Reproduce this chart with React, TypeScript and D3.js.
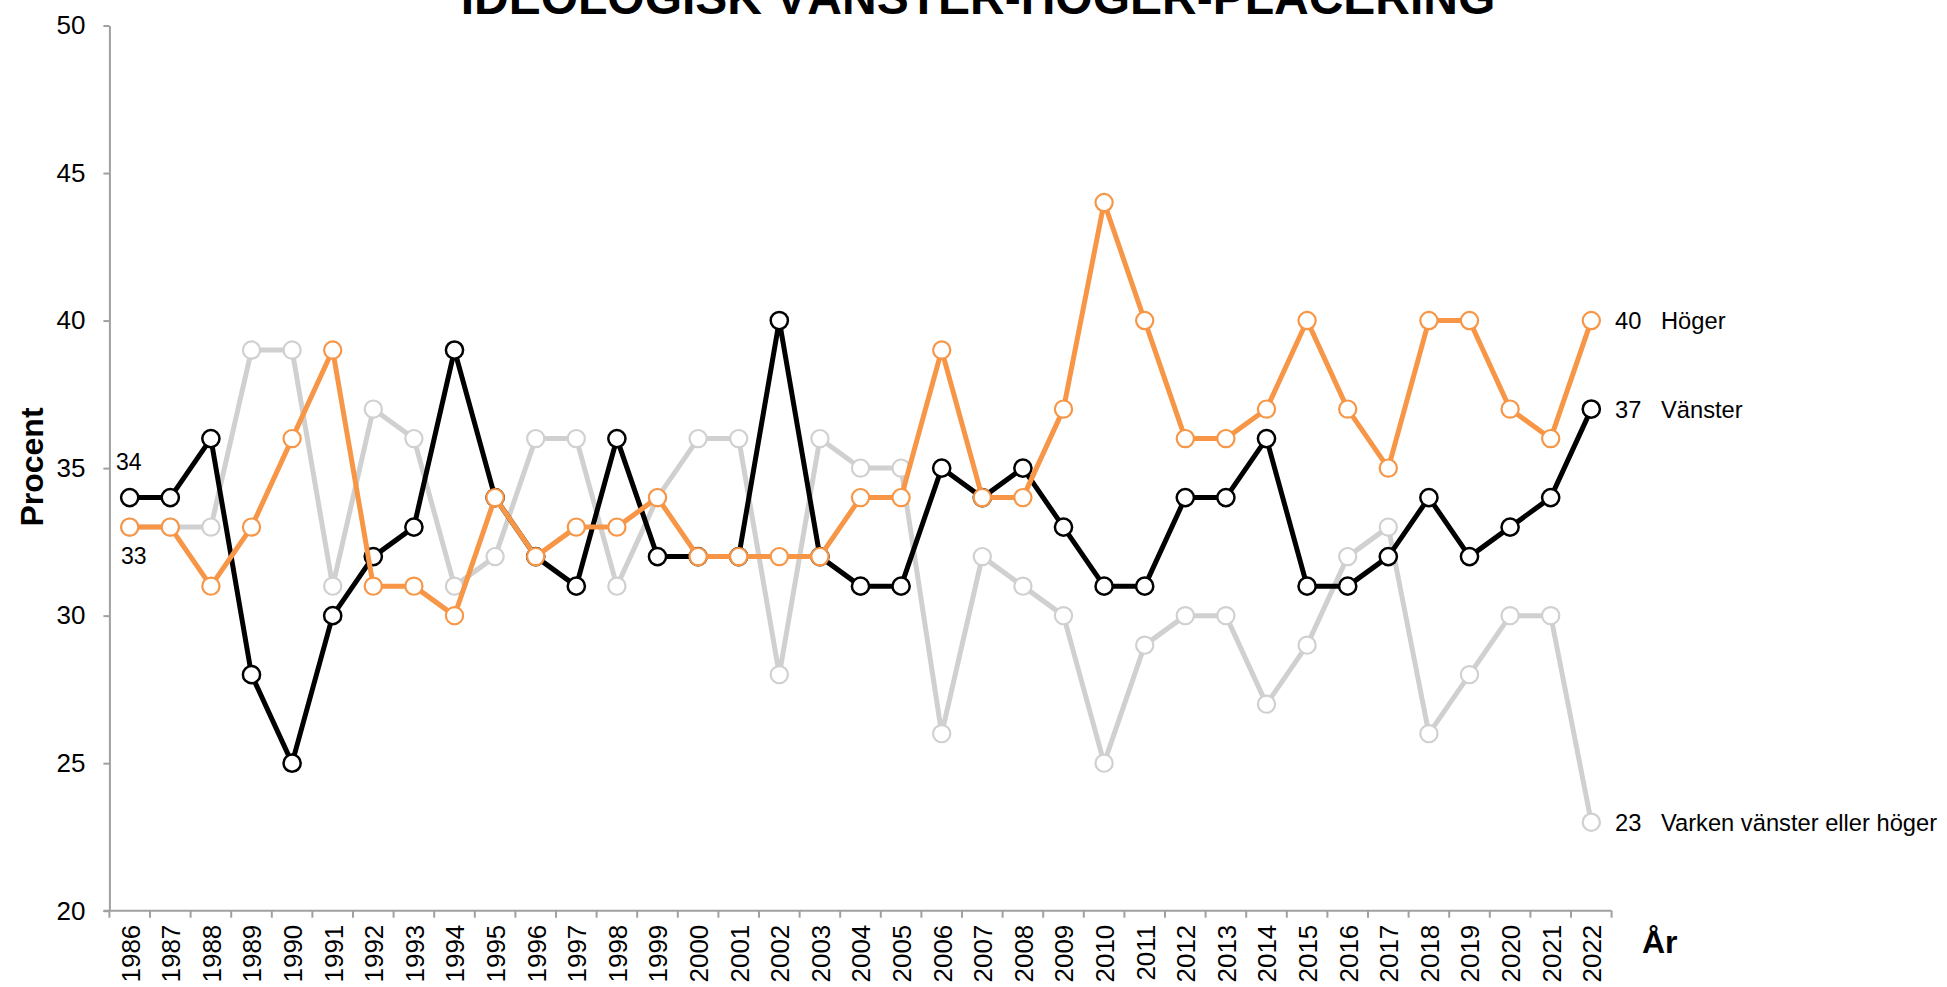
import React, { useEffect, useRef } from 'react';
import * as d3 from 'd3';

const years: string[] = [
  '1986','1987','1988','1989','1990','1991','1992','1993','1994','1995',
  '1996','1997','1998','1999','2000','2001','2002','2003','2004','2005',
  '2006','2007','2008','2009','2010','2011','2012','2013','2014','2015',
  '2016','2017','2018','2019','2020','2021','2022',
];

const vanster: number[] = [
  34, 34, 36, 28, 25, 30, 32, 33, 39, 34,
  32, 31, 36, 32, 32, 32, 40, 32, 31, 31,
  35, 34, 35, 33, 31, 31, 34, 34, 36, 31,
  31, 32, 34, 32, 33, 34, 37,
];

const hoger: number[] = [
  33, 33, 31, 33, 36, 39, 31, 31, 30, 34,
  32, 33, 33, 34, 32, 32, 32, 32, 34, 34,
  39, 34, 34, 37, 44, 40, 36, 36, 37, 40,
  37, 35, 40, 40, 37, 36, 40,
];

const varken: number[] = [
  33, 33, 33, 39, 39, 31, 37, 36, 31, 32,
  36, 36, 31, 34, 36, 36, 28, 36, 35, 35,
  26, 32, 31, 30, 25, 29, 30, 30, 27, 29,
  32, 33, 26, 28, 30, 30, 23,
];

const yTicks: number[] = [20, 25, 30, 35, 40, 45, 50];

const seriesNames = ['Varken vänster eller höger', 'Vänster', 'Höger'];
const seriesColors = ['#d0d0d0', '#000000', '#f79646'];

const title = 'IDEOLOGISK VÄNSTER-HÖGER-PLACERING';
const yTitle = 'Procent';
const xTitle = 'År';

const FONT = '"Liberation Sans", Arial, Helvetica, sans-serif';

export default function App() {
  const ref = useRef<SVGSVGElement>(null);

  useEffect(() => {
    const svg = d3.select(ref.current);
    svg.selectAll('*').remove();

    const x0 = 109.4;
    const x1 = 1611.6;
    const yBottom = 910.7;
    const yTop = 25.5;
    const axisColor = '#a0a0a0';

    const x = d3.scalePoint<string>().domain(years).range([x0, x1]).padding(0.5);
    const y = d3.scaleLinear().domain([20, 50]).range([yBottom, yTop]);

    // Title
    svg.append('text')
      .attr('x', 978)
      .attr('y', 13.5)
      .attr('text-anchor', 'middle')
      .style('font-family', FONT)
      .style('font-weight', 'bold')
      .style('font-size', '48px')
      .attr('fill', '#000')
      .text(title);

    // Y axis
    const yAxis = svg.append('g')
      .attr('transform', `translate(${x0},0)`)
      .call(d3.axisLeft(y).tickValues(yTicks).tickSize(6).tickSizeOuter(0).tickPadding(18));
    yAxis.select('.domain').attr('stroke', axisColor).attr('stroke-width', 2);
    yAxis.selectAll('.tick line').attr('stroke', axisColor).attr('stroke-width', 2);
    yAxis.selectAll('.tick text')
      .style('font-family', FONT)
      .style('font-size', '26px')
      .attr('fill', '#000');

    // X axis
    const xAxis = svg.append('g')
      .attr('transform', `translate(0,${yBottom})`)
      .call(d3.axisBottom(x).tickSize(0).tickSizeOuter(0));
    xAxis.select('.domain')
      .attr('d', `M${x0 - 6},0H${x1}`)
      .attr('stroke', axisColor).attr('stroke-width', 2);
    xAxis.selectAll('.tick text')
      .attr('transform', 'rotate(-90)')
      .attr('x', -14)
      .attr('y', 0)
      .attr('dy', '0.36em')
      .style('text-anchor', 'end')
      .style('font-family', FONT)
      .style('font-size', '26px')
      .attr('fill', '#000');

    // Boundary ticks on x axis
    const step = x.step();
    const bounds = d3.range(years.length + 1).map((i) => x0 + i * step);
    svg.append('g')
      .selectAll('line')
      .data(bounds)
      .join('line')
      .attr('x1', (d) => d)
      .attr('x2', (d) => d)
      .attr('y1', yBottom)
      .attr('y2', yBottom + 7)
      .attr('stroke', axisColor)
      .attr('stroke-width', 2);

    // Axis titles
    svg.append('text')
      .attr('transform', `translate(43,467) rotate(-90)`)
      .attr('text-anchor', 'middle')
      .style('font-family', FONT)
      .style('font-weight', 'bold')
      .style('font-size', '32px')
      .attr('fill', '#000')
      .text(yTitle);

    svg.append('text')
      .attr('x', 1642)
      .attr('y', 952.5)
      .style('font-family', FONT)
      .style('font-weight', 'bold')
      .style('font-size', '32px')
      .attr('fill', '#000')
      .text(xTitle);

    // Series
    const allSeries = [varken, vanster, hoger];
    const markerStroke = [2.2, 2.5, 2.2];
    const line = d3.line<number>()
      .x((_, i) => x(years[i]) as number)
      .y((d) => y(d));

    allSeries.forEach((vals, si) => {
      const g = svg.append('g');
      g.append('path')
        .datum(vals)
        .attr('d', line)
        .attr('fill', 'none')
        .attr('stroke', seriesColors[si])
        .attr('stroke-width', 5)
        .attr('stroke-linejoin', 'round');
      g.selectAll('circle')
        .data(vals)
        .join('circle')
        .attr('cx', (_, i) => x(years[i]) as number)
        .attr('cy', (d) => y(d))
        .attr('r', 8.6)
        .attr('fill', '#fff')
        .attr('stroke', seriesColors[si])
        .attr('stroke-width', markerStroke[si]);

      const last = vals[vals.length - 1];
      const ly = y(last);
      g.append('text')
        .attr('x', 1615)
        .attr('y', ly)
        .attr('dy', '0.36em')
        .style('font-family', FONT)
        .style('font-size', '23.7px')
        .attr('fill', '#000')
        .text(String(last));
      g.append('text')
        .attr('x', 1661)
        .attr('y', ly)
        .attr('dy', '0.36em')
        .style('font-family', FONT)
        .style('font-size', '23.7px')
        .attr('fill', '#000')
        .text(seriesNames[si]);
    });

    // First-year labels
    const fx = x(years[0]) as number;
    svg.append('text')
      .attr('x', fx - 1)
      .attr('y', y(vanster[0]) - 27.5)
      .attr('text-anchor', 'middle')
      .style('font-family', FONT)
      .style('font-size', '23px')
      .attr('fill', '#000')
      .text(String(vanster[0]));
    svg.append('text')
      .attr('x', fx + 4)
      .attr('y', y(hoger[0]) + 37)
      .attr('text-anchor', 'middle')
      .style('font-family', FONT)
      .style('font-size', '23px')
      .attr('fill', '#000')
      .text(String(hoger[0]));
  }, []);

  return (
    <svg
      ref={ref}
      width={1947}
      height={987}
      style={{ position: 'absolute', left: 0, top: 0, display: 'block', background: '#fff' }}
    />
  );
}
